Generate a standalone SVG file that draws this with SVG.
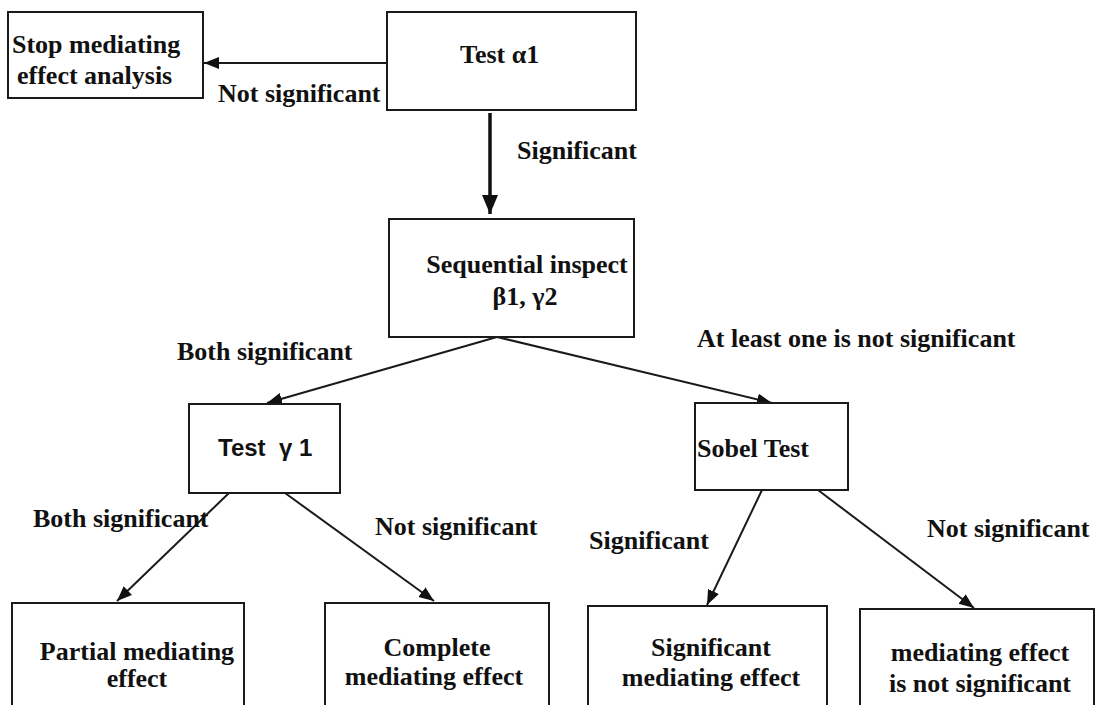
<svg xmlns="http://www.w3.org/2000/svg" width="1101" height="705" viewBox="0 0 1101 705">
<style>
.box{fill:#fff;stroke:#1a1a1a;stroke-width:2}
.t{font-family:"Liberation Serif","Times New Roman",serif;font-weight:bold;font-size:26px;fill:#111}
.s{font-family:"Liberation Sans",Arial,sans-serif;font-weight:bold;font-size:24px;fill:#111}
.c{stroke:#1a1a1a;stroke-width:2;fill:none}
.c3{stroke:#111;stroke-width:3.5;fill:none}
</style>
<defs>
<marker id="ah" markerUnits="userSpaceOnUse" markerWidth="16" markerHeight="14" refX="15" refY="7" orient="auto"><path d="M0,1 L15,7 L0,13 Z" fill="#111"/></marker>
<marker id="ahb" markerUnits="userSpaceOnUse" markerWidth="20" markerHeight="18" refX="19" refY="9" orient="auto"><path d="M0,1 L19,9 L0,17 Z" fill="#111"/></marker>
</defs>
<g id="connectors">
<line class="c" x1="387" y1="63" x2="204" y2="63" marker-end="url(#ah)"/>
<line class="c3" x1="490" y1="113" x2="490" y2="214" marker-end="url(#ahb)"/>
<line class="c" x1="497" y1="337" x2="267" y2="403" marker-end="url(#ah)"/>
<line class="c" x1="497" y1="337" x2="772" y2="403" marker-end="url(#ah)"/>
<line class="c" x1="229" y1="493" x2="117" y2="601" marker-end="url(#ah)"/>
<line class="c" x1="285" y1="493" x2="434" y2="601" marker-end="url(#ah)"/>
<line class="c" x1="762" y1="490" x2="707" y2="605" marker-end="url(#ah)"/>
<line class="c" x1="818" y1="490" x2="974" y2="608" marker-end="url(#ah)"/>
<text class="t" x="218" y="102">Not significant</text>
<text class="t" x="517" y="159">Significant</text>
<text class="t" x="177" y="360">Both significant</text>
<text class="t" x="697" y="347">At least one is not significant</text>
<text class="t" x="33" y="527">Both significant</text>
<text class="t" x="375" y="535">Not significant</text>
<text class="t" x="589" y="549">Significant</text>
<text class="t" x="927" y="537">Not significant</text>
</g>
<g id="stop">
<rect class="box" x="8" y="12" width="195" height="86"/>
<text class="t" x="12" y="53">Stop mediating</text>
<text class="t" x="17" y="84">effect analysis</text>
</g>
<g id="testA1">
<rect class="box" x="387" y="12" width="249" height="98"/>
<text class="t" x="460" y="63">Test α1</text>
</g>
<g id="sequential">
<rect class="box" x="389" y="219" width="245" height="118"/>
<text class="t" x="527" y="273" text-anchor="middle">Sequential inspect</text>
<text class="t" x="525" y="305" text-anchor="middle">β1, γ2</text>
</g>
<g id="testG1">
<rect class="box" x="189" y="404" width="151" height="89"/>
<text class="s" x="218" y="456" xml:space="preserve">Test  γ 1</text>
</g>
<g id="sobel">
<rect class="box" x="695" y="403" width="153" height="87"/>
<text class="t" x="697" y="457">Sobel Test</text>
</g>
<g id="partial">
<rect class="box" x="12" y="603" width="232" height="110"/>
<text class="t" x="137" y="660" text-anchor="middle">Partial mediating</text>
<text class="t" x="137" y="687" text-anchor="middle">effect</text>
</g>
<g id="complete">
<rect class="box" x="325" y="603" width="224" height="110"/>
<text class="t" x="437" y="656" text-anchor="middle">Complete</text>
<text class="t" x="434" y="685" text-anchor="middle">mediating effect</text>
</g>
<g id="sigMed">
<rect class="box" x="588" y="606" width="239" height="110"/>
<text class="t" x="711" y="656" text-anchor="middle">Significant</text>
<text class="t" x="711" y="686" text-anchor="middle">mediating effect</text>
</g>
<g id="notSigMed">
<rect class="box" x="860" y="609" width="234" height="110"/>
<text class="t" x="980" y="661" text-anchor="middle">mediating effect</text>
<text class="t" x="980" y="692" text-anchor="middle">is not significant</text>
</g>
</svg>
